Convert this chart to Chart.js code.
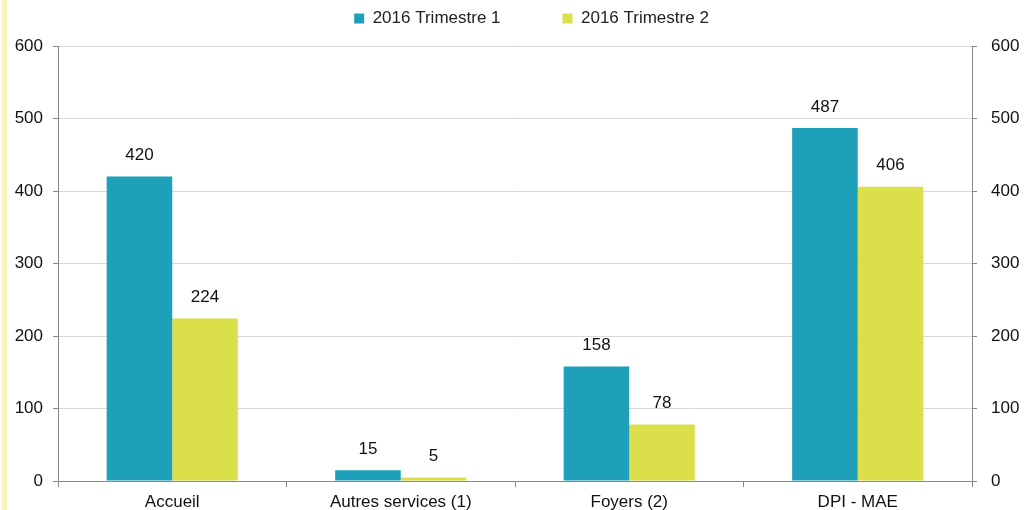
<!DOCTYPE html>
<html>
<head>
<meta charset="utf-8">
<script src="https://cdn.jsdelivr.net/npm/chart.js@4/dist/chart.umd.min.js"></script>
<style>
    html, body { margin: 0; padding: 0; background: #fff; }
    #wrap { position: relative; width: 1028px; height: 510px; }
    #strip { position: absolute; left: 2px; top: 0; width: 5px; height: 510px; background: #f6f2b8; }
    canvas { position: absolute; left: 0; top: 0; }
</style>
</head>
<body>
<div id="wrap">
    <div id="strip"></div>
    <canvas id="chart" width="1028" height="510"></canvas>
</div>
<script>
// Data
const categories = ['Accueil', 'Autres services (1)', 'Foyers (2)', 'DPI - MAE'];
const trimestre1 = [420, 15, 158, 487];
const trimestre2 = [224, 5, 78, 406];
const seriesNames = ['2016 Trimestre 1', '2016 Trimestre 2'];

Chart.defaults.font.family = '"Liberation Sans", Arial, sans-serif';
Chart.defaults.font.size = 17;
Chart.defaults.color = '#111';

// value labels above bars
const barLabels = {
    id: 'barLabels',
    afterDatasetsDraw(chart) {
        const c = chart.ctx;
        c.save();
        c.font = '17px "Liberation Sans", Arial, sans-serif';
        c.fillStyle = '#111';
        c.textAlign = 'center';
        c.textBaseline = 'middle';
        chart.data.datasets.forEach((ds, i) => {
            chart.getDatasetMeta(i).data.forEach((bar, j) => {
                c.fillText(ds.data[j], bar.x, bar.y - 21);
            });
        });
        c.restore();
    }
};

// legend: fixed height, nudged a bit to the right like the original
const legendFit = {
    id: 'legendFit',
    beforeInit(chart) {
        const fit = chart.legend.fit;
        chart.legend.fit = function () {
            fit.bind(chart.legend)();
            this.height = 46;
            if (this.lineWidths) this.lineWidths = this.lineWidths.map(w => w - 35);
        };
    }
};

const ctx = document.getElementById('chart').getContext('2d');
new Chart(ctx, {
    type: 'bar',
    data: {
        labels: categories,
        datasets: [
            {
                label: seriesNames[0],
                data: trimestre1,
                backgroundColor: '#1fa0ba',
                categoryPercentage: 0.574,
                barPercentage: 1,
                yAxisID: 'y'
            },
            {
                label: seriesNames[1],
                data: trimestre2,
                backgroundColor: '#dbe04a',
                categoryPercentage: 0.574,
                barPercentage: 1,
                yAxisID: 'y'
            }
        ]
    },
    options: {
        responsive: false,
        animation: false,
        layout: { padding: 0 },
        plugins: {
            legend: {
                position: 'top',
                labels: {
                    boxWidth: 10, boxHeight: 10, padding: 10, color: '#222', font: { size: 17 },
                    generateLabels(chart) {
                        const items = Chart.defaults.plugins.legend.labels.generateLabels(chart);
                        // wide gap between the two entries
                        items[0].text = items[0].text + ' '.repeat(11);
                        return items;
                    }
                }
            },
            tooltip: { enabled: false }
        },
        scales: {
            x: {
                grid: { drawOnChartArea: false, color: '#888', tickLength: 6, offset: true },
                border: { color: '#888' },
                ticks: { color: '#111', padding: 5 },
                afterFit(scale) { scale.height = 29; }
            },
            y: {
                position: 'left',
                min: 0, max: 600,
                ticks: { stepSize: 100, color: '#111', padding: 10 },
                grid: { color: '#d9d9d9', tickLength: 5, tickColor: '#888' },
                border: { color: '#888' },
                afterFit(scale) { scale.width = 58; }
            },
            y1: {
                position: 'right',
                min: 0, max: 600,
                ticks: { stepSize: 100, color: '#111', padding: 14 },
                grid: { drawOnChartArea: false, tickLength: 5, color: '#888' },
                border: { color: '#888' },
                afterFit(scale) { scale.width = 56; }
            }
        }
    },
    plugins: [barLabels, legendFit]
});
</script>
</body>
</html>
